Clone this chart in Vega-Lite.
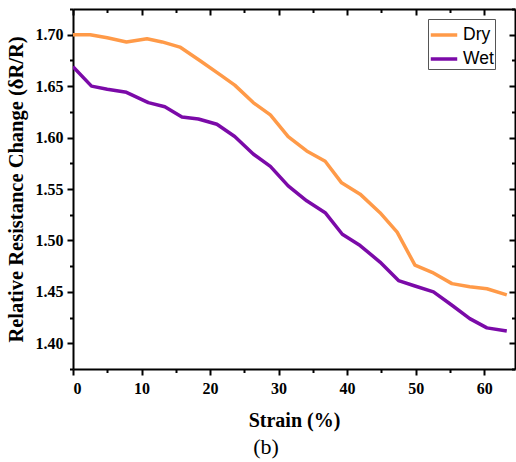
{
  "$schema": "https://vega.github.io/schema/vega-lite/v6.json",
  "width": 442,
  "height": 360,
  "autosize": {"type": "none"},
  "padding": {"left": 73, "top": 9, "right": 1, "bottom": 93},
  "background": "white",
  "title": {"text": "(b)", "orient": "bottom", "font": "Liberation Serif", "fontSize": 22, "fontWeight": "normal", "color": "black", "offset": 7, "dx": -28, "anchor": "middle"},
  "config": {
    "view": {"stroke": null},
    "axis": {"domainColor": "black", "domainWidth": 2, "tickColor": "black", "tickWidth": 2, "grid": false, "labelFont": "Liberation Serif", "labelFontWeight": "bold", "labelFontSize": 16, "labelColor": "black", "titleFont": "Liberation Serif", "titleFontWeight": "bold", "titleFontSize": 20, "titleColor": "black"}
  },
  "data": {"values": [
    {"strain": 0, "value": 1.700, "series": "Dry"},
    {"strain": 2.5, "value": 1.700, "series": "Dry"},
    {"strain": 5, "value": 1.697, "series": "Dry"},
    {"strain": 7.8, "value": 1.693, "series": "Dry"},
    {"strain": 10.8, "value": 1.696, "series": "Dry"},
    {"strain": 13, "value": 1.693, "series": "Dry"},
    {"strain": 15.6, "value": 1.688, "series": "Dry"},
    {"strain": 18.5, "value": 1.675, "series": "Dry"},
    {"strain": 21.5, "value": 1.661, "series": "Dry"},
    {"strain": 23.6, "value": 1.651, "series": "Dry"},
    {"strain": 26.3, "value": 1.634, "series": "Dry"},
    {"strain": 28.8, "value": 1.622, "series": "Dry"},
    {"strain": 31.4, "value": 1.601, "series": "Dry"},
    {"strain": 34.1, "value": 1.587, "series": "Dry"},
    {"strain": 36.8, "value": 1.577, "series": "Dry"},
    {"strain": 39.2, "value": 1.556, "series": "Dry"},
    {"strain": 41.9, "value": 1.545, "series": "Dry"},
    {"strain": 44.8, "value": 1.527, "series": "Dry"},
    {"strain": 47.3, "value": 1.508, "series": "Dry"},
    {"strain": 49.9, "value": 1.476, "series": "Dry"},
    {"strain": 52.4, "value": 1.469, "series": "Dry"},
    {"strain": 55.3, "value": 1.458, "series": "Dry"},
    {"strain": 57.9, "value": 1.455, "series": "Dry"},
    {"strain": 60.4, "value": 1.453, "series": "Dry"},
    {"strain": 63.3, "value": 1.447, "series": "Dry"},
    {"strain": 0, "value": 1.669, "series": "Wet"},
    {"strain": 2.7, "value": 1.650, "series": "Wet"},
    {"strain": 5, "value": 1.647, "series": "Wet"},
    {"strain": 7.8, "value": 1.644, "series": "Wet"},
    {"strain": 11, "value": 1.634, "series": "Wet"},
    {"strain": 13.4, "value": 1.630, "series": "Wet"},
    {"strain": 15.9, "value": 1.620, "series": "Wet"},
    {"strain": 18.3, "value": 1.618, "series": "Wet"},
    {"strain": 21, "value": 1.613, "series": "Wet"},
    {"strain": 23.6, "value": 1.601, "series": "Wet"},
    {"strain": 26.3, "value": 1.584, "series": "Wet"},
    {"strain": 28.8, "value": 1.572, "series": "Wet"},
    {"strain": 31.4, "value": 1.553, "series": "Wet"},
    {"strain": 34.1, "value": 1.5385, "series": "Wet"},
    {"strain": 36.8, "value": 1.527, "series": "Wet"},
    {"strain": 39.3, "value": 1.506, "series": "Wet"},
    {"strain": 41.9, "value": 1.495, "series": "Wet"},
    {"strain": 44.8, "value": 1.479, "series": "Wet"},
    {"strain": 47.5, "value": 1.461, "series": "Wet"},
    {"strain": 49.9, "value": 1.4557, "series": "Wet"},
    {"strain": 52.6, "value": 1.450, "series": "Wet"},
    {"strain": 55.3, "value": 1.437, "series": "Wet"},
    {"strain": 57.9, "value": 1.424, "series": "Wet"},
    {"strain": 60.4, "value": 1.415, "series": "Wet"},
    {"strain": 63.3, "value": 1.412, "series": "Wet"}
  ]},
  "resolve": {"axis": {"x": "independent", "y": "independent"}},
  "layer": [
    {
      "mark": {"type": "line", "strokeWidth": 3.5, "strokeJoin": "round", "clip": true},
      "encoding": {
        "x": {"field": "strain", "type": "quantitative", "scale": {"domain": [0, 64.5], "nice": false, "zero": false},
              "axis": {"orient": "bottom", "values": [0, 10, 20, 30, 40, 50, 60], "format": "d", "tickSize": 6, "labelPadding": 5, "title": "Strain (%)", "titlePadding": 14}},
        "y": {"field": "value", "type": "quantitative", "scale": {"domain": [1.375, 1.725], "nice": false, "zero": false},
              "axis": {"orient": "left", "values": [1.40, 1.45, 1.50, 1.55, 1.60, 1.65, 1.70], "format": ".2f", "tickSize": 6, "labelPadding": 4, "title": "Relative Resistance Change (δR/R)", "titlePadding": 9, "titleFontSize": 20.5}},
        "color": {"field": "series", "type": "nominal",
                  "scale": {"domain": ["Dry", "Wet"], "range": ["#FF9A48", "#7B0AA8"]},
                  "legend": {"title": null, "orient": "none", "legendX": 355, "legendY": 10, "symbolType": "stroke", "symbolSize": 700, "symbolStrokeWidth": 3.5, "labelFont": "Liberation Sans", "labelFontSize": 17.5, "labelColor": "black", "strokeColor": "#555555", "padding": 1, "rowPadding": -9, "labelOffset": 4, "symbolOffset": 0}}
      }
    },
    {
      "mark": {"type": "line", "strokeOpacity": 0},
      "encoding": {
        "x": {"field": "strain", "type": "quantitative", "axis": {"orient": "bottom", "values": [5, 15, 25, 35, 45, 55], "labels": false, "domain": false, "tickSize": 3.5, "title": null}},
        "y": {"field": "value", "type": "quantitative", "axis": {"orient": "left", "values": [1.375, 1.425, 1.475, 1.525, 1.575, 1.625, 1.675, 1.725], "labels": false, "domain": false, "tickSize": 3.5, "title": null}}
      }
    },
    {
      "mark": {"type": "line", "strokeOpacity": 0},
      "encoding": {
        "x": {"field": "strain", "type": "quantitative", "axis": {"orient": "top", "values": [0, 10, 20, 30, 40, 50, 60], "labels": false, "tickSize": -6, "title": null}},
        "y": {"field": "value", "type": "quantitative", "axis": {"orient": "right", "values": [1.40, 1.45, 1.50, 1.55, 1.60, 1.65, 1.70], "labels": false, "tickSize": -6, "title": null}}
      }
    },
    {
      "mark": {"type": "line", "strokeOpacity": 0},
      "encoding": {
        "x": {"field": "strain", "type": "quantitative", "axis": {"orient": "top", "values": [5, 15, 25, 35, 45, 55], "labels": false, "domain": false, "tickSize": -3.5, "title": null}},
        "y": {"field": "value", "type": "quantitative", "axis": {"orient": "right", "values": [1.375, 1.425, 1.475, 1.525, 1.575, 1.625, 1.675, 1.725], "labels": false, "domain": false, "tickSize": -3.5, "title": null}}
      }
    }
  ]
}
